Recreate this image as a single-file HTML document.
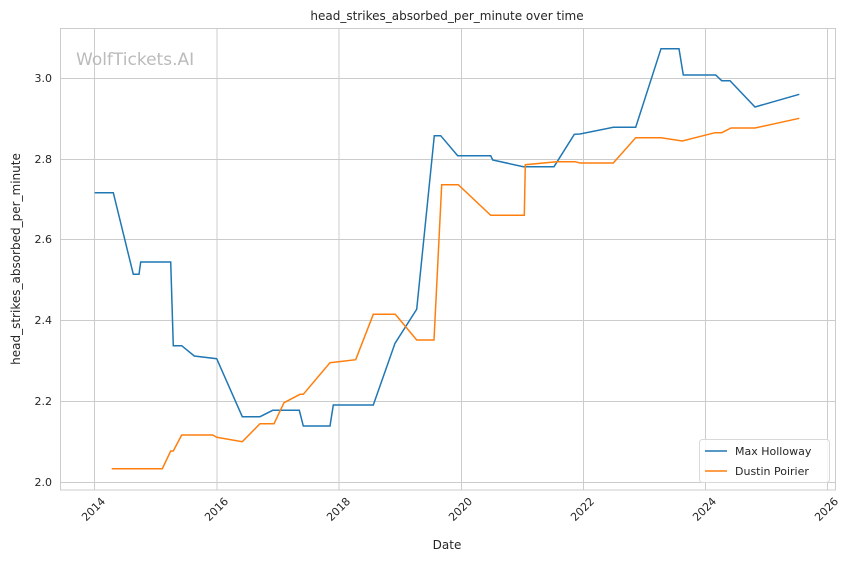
<!DOCTYPE html>
<html><head><meta charset="utf-8"><style>
body{margin:0;background:#fff;font-family:"Liberation Sans","DejaVu Sans",sans-serif;}
</style></head><body>
<svg width="852" height="561" xmlns="http://www.w3.org/2000/svg" font-family="DejaVu Sans, Liberation Sans, sans-serif">
<rect width="852" height="561" fill="#fff"/>
<g stroke="#cccccc" stroke-width="1">
<line x1="94.5" y1="28" x2="94.5" y2="490"/>
<line x1="217" y1="28" x2="217" y2="490"/>
<line x1="339" y1="28" x2="339" y2="490"/>
<line x1="461.5" y1="28" x2="461.5" y2="490"/>
<line x1="583.5" y1="28" x2="583.5" y2="490"/>
<line x1="705.5" y1="28" x2="705.5" y2="490"/>
<line x1="827.5" y1="28" x2="827.5" y2="490"/>
<line x1="60" y1="482.5" x2="836" y2="482.5"/>
<line x1="60" y1="401.5" x2="836" y2="401.5"/>
<line x1="60" y1="320.5" x2="836" y2="320.5"/>
<line x1="60" y1="239.5" x2="836" y2="239.5"/>
<line x1="60" y1="159.5" x2="836" y2="159.5"/>
<line x1="60" y1="78.5" x2="836" y2="78.5"/>
</g>
<rect x="60.5" y="28.5" width="775" height="461.5" fill="none" stroke="#cccccc" stroke-width="1"/>
<text x="76" y="65" font-size="17" fill="#bbbbbb">WolfTickets.AI</text>
<polyline fill="none" stroke="#1f77b4" stroke-width="1.5" points="94.7,192.7 113.3,192.7 133.3,274.3 139,274.3 140.7,262 170.7,262 173.3,345.7 181.7,345.7 194.3,356 216.7,358.7 242.3,416.7 260,416.7 272.7,410.3 299.3,410.3 303.3,426 330,426 333.3,405 373.3,405 395,343.3 416.7,309.3 434.3,135.7 440.7,135.7 457.7,155.7 490.7,155.7 492.7,160 523.3,166.7 554,166.7 574.3,134.3 580,134 613.3,127.3 635.7,127.3 661,48.7 679,48.7 683.3,75 715.7,75 721.7,80.7 730,80.7 755,107 799.3,94.3"/>
<polyline fill="none" stroke="#ff7f0e" stroke-width="1.5" points="111.7,468.7 162.3,468.7 170.7,451 173.3,451 181.7,435 212.7,435 216.7,437.3 242.3,441.7 260,423.7 274,423.7 284,402.7 300,394.3 303.3,394.3 330,362.7 355.7,359.7 373.3,314.3 395.3,314.3 416.7,340 434,340 441.7,184.7 458.3,184.7 490.7,215.3 524.3,215.3 525.3,164.7 556.7,161.7 575,161.7 580,163 613.3,163 635.7,137.7 661,137.7 682.3,141 715,132.7 721.7,132.7 731,128 755,128 799.3,118.3"/>
<g font-size="11" fill="#262626" text-anchor="end">
<text x="52" y="486">2.0</text>
<text x="52" y="405">2.2</text>
<text x="52" y="324">2.4</text>
<text x="52" y="243">2.6</text>
<text x="52" y="163">2.8</text>
<text x="52" y="82">3.0</text>
</g>
<g font-size="11" fill="#262626" text-anchor="end">
<text transform="translate(106,502) rotate(-45)">2014</text>
<text transform="translate(229,502) rotate(-45)">2016</text>
<text transform="translate(351,502) rotate(-45)">2018</text>
<text transform="translate(473,502) rotate(-45)">2020</text>
<text transform="translate(595,502) rotate(-45)">2022</text>
<text transform="translate(717,502) rotate(-45)">2024</text>
<text transform="translate(839,502) rotate(-45)">2026</text>
</g>
<text x="447" y="549" font-size="12" fill="#262626" text-anchor="middle">Date</text>
<text transform="translate(20,259) rotate(-90)" font-size="12" fill="#262626" text-anchor="middle">head_strikes_absorbed_per_minute</text>
<text x="447" y="20" font-size="12" fill="#262626" text-anchor="middle">head_strikes_absorbed_per_minute over time</text>
<rect x="699.5" y="439.5" width="130" height="43" rx="3" fill="#fff" fill-opacity="0.85" stroke="#d9d9d9"/>
<line x1="705" y1="451" x2="727" y2="451" stroke="#1f77b4" stroke-width="1.5"/>
<line x1="705" y1="471" x2="727" y2="471" stroke="#ff7f0e" stroke-width="1.5"/>
<text x="735" y="455" font-size="11" fill="#262626">Max Holloway</text>
<text x="735" y="475" font-size="11" fill="#262626">Dustin Poirier</text>
</svg>
</body></html>
